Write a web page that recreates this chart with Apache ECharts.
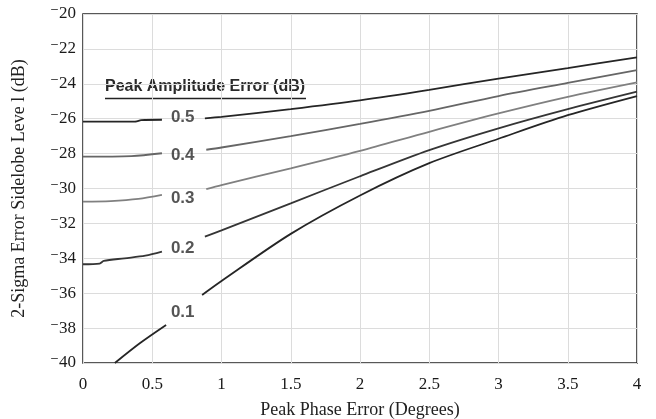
<!DOCTYPE html>
<html>
<head>
<meta charset="utf-8">
<script src="https://cdn.jsdelivr.net/npm/echarts@6/dist/echarts.min.js"></script>
<style>
html, body { margin: 0; background: #fff; }
#main { width: 656px; height: 419px; }
</style>
</head>
<body>
<div id="main"></div>
<script>
// peak amplitude error curves, null = gap where the label sits
var phase05 = [0, 0.38, 0.42, 0.57, null, 0.88, 1, 1.5, 2, 2.5, 3, 3.5, 4];
var sll05   = [-26.17, -26.16, -26.08, -26.06, null, -25.98, -25.9, -25.45, -24.95, -24.35, -23.7, -23.1, -22.48];

var phase04 = [0, 0.35, 0.57, null, 0.89, 1, 1.5, 2, 2.5, 3, 3.5, 4];
var sll04   = [-28.17, -28.14, -27.98, null, -27.78, -27.65, -27.0, -26.3, -25.55, -24.7, -23.95, -23.21];

var phase03 = [0, 0.2, 0.4, 0.57, null, 0.89, 1, 1.5, 2, 2.5, 3, 3.5, 4];
var sll03   = [-30.75, -30.72, -30.6, -30.37, null, -30.03, -29.8, -28.85, -27.85, -26.75, -25.7, -24.75, -23.92];

var phase02 = [0, 0.12, 0.15, 0.3, 0.45, 0.57, null, 0.88, 1, 1.5, 2, 2.5, 3, 3.5, 4];
var sll02   = [-34.34, -34.3, -34.15, -34.0, -33.85, -33.62, null, -32.76, -32.4, -30.85, -29.3, -27.8, -26.55, -25.45, -24.45];

var phase01 = [0.23, 0.41, 0.6, null, 0.86, 1, 1.5, 2, 2.5, 3, 3.5, 4];
var sll01   = [-40, -38.87, -37.82, null, -36.1, -35.3, -32.6, -30.4, -28.55, -27.15, -25.8, -24.7];

// curve labels
var labelText = ['0.5', '0.4', '0.3', '0.2', '0.1'];
var labelX    = [0.72, 0.72, 0.72, 0.72, 0.72];
var labelY    = [-25.9, -28.08, -30.54, -33.41, -37.08];

function pairs(xs, ys) {
    return xs.map(function (x, i) {
        return x === null ? '-' : [x, ys[i]];
    });
}

function curve(name, xs, ys, color) {
    return {
        name: name,
        type: 'line',
        data: pairs(xs, ys),
        smooth: 0.3,
        showSymbol: false,
        connectNulls: false,
        lineStyle: { color: color, width: 1.8 },
        silent: true
    };
}

var myChart = echarts.init(document.getElementById('main'));

var option = {
    backgroundColor: '#fff',
    animation: false,
    grid: {
        left: 83,
        right: 19,
        top: 14,
        bottom: 56,
        outerBoundsMode: 'none',
        show: true,
        borderColor: '#222',
        borderWidth: 1.5
    },
    xAxis: {
        type: 'value',
        min: 0,
        max: 4,
        interval: 0.5,
        name: 'Peak Phase Error (Degrees)',
        nameLocation: 'middle',
        nameGap: 38,
        nameTextStyle: { fontFamily: 'Liberation Serif', fontSize: 18, color: '#222' },
        axisLine: { show: false },
        axisTick: { show: false },
        axisLabel: { fontFamily: 'Liberation Serif', fontSize: 17, color: '#1a1a1a', margin: 13 },
        splitLine: { lineStyle: { color: '#dcdcdc', width: 1 } }
    },
    yAxis: {
        type: 'value',
        min: -40,
        max: -20,
        interval: 2,
        name: '2-Sigma Error Sidelobe Leve l (dB)',
        nameLocation: 'middle',
        nameGap: 55,
        nameTextStyle: { fontFamily: 'Liberation Serif', fontSize: 18, color: '#222' },
        axisLine: { show: false },
        axisTick: { show: false },
        axisLabel: {
            fontFamily: 'Liberation Serif, DejaVu Serif',
            fontSize: 17,
            color: '#1a1a1a',
            margin: 7,
            formatter: function (v) {
                return v < 0 ? '\u207B' + Math.abs(v) : String(v);
            }
        },
        splitLine: { lineStyle: { color: '#dcdcdc', width: 1 } }
    },
    graphic: [
        {
            type: 'text',
            left: 105,
            top: 79,
            style: {
                text: 'Peak Amplitude Error (dB)',
                font: 'bold 16px "Liberation Sans", Arial, sans-serif',
                fill: '#2a2a2a'
            }
        },
        {
            type: 'line',
            shape: { x1: 105, y1: 98.5, x2: 306, y2: 98.5 },
            style: { stroke: '#222', lineWidth: 1.4 }
        }
    ],
    series: [
        curve('0.5', phase05, sll05, '#252525'),
        curve('0.4', phase04, sll04, '#666'),
        curve('0.3', phase03, sll03, '#808080'),
        curve('0.2', phase02, sll02, '#353535'),
        curve('0.1', phase01, sll01, '#252525'),
        {
            name: 'labels',
            type: 'scatter',
            symbolSize: 0,
            silent: true,
            data: labelText.map(function (t, i) {
                return { value: [labelX[i], labelY[i]], name: t };
            }),
            label: {
                show: true,
                position: 'inside',
                formatter: '{b}',
                fontFamily: 'Liberation Sans',
                fontWeight: 'bold',
                fontSize: 17,
                color: '#2a2a2a'
            }
        }
    ]
};

myChart.setOption(option);
</script>
</body>
</html>
